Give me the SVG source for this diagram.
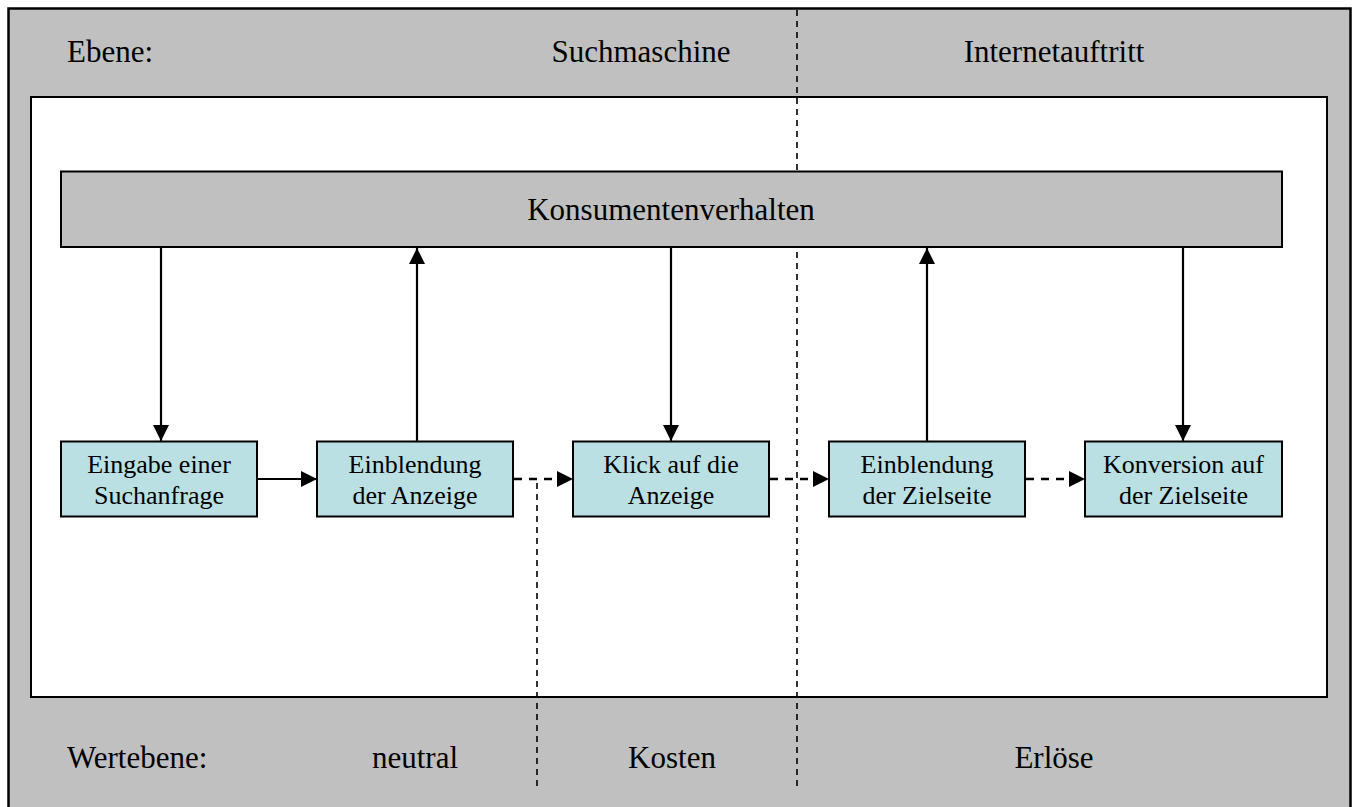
<svg xmlns="http://www.w3.org/2000/svg" width="1355" height="807" viewBox="0 0 1355 807">
<style>
  .lbl { font-family: "Liberation Serif", "Times New Roman", serif; font-size: 31px; fill: #000; }
  .box { fill: #BAE0E3; stroke: #000; stroke-width: 2; }
  .btxt { font-family: "Liberation Serif", "Times New Roman", serif; font-size: 26px; fill: #000; text-anchor: middle; }
  .sep { stroke: #000; stroke-width: 1.6; stroke-dasharray: 6 5; fill: none; }
  .solid { stroke: #000; stroke-width: 2.2; fill: none; marker-end: url(#ah); }
  .dash { stroke: #000; stroke-width: 2.5; stroke-dasharray: 8 7; fill: none; marker-end: url(#ah); }
</style>
<defs>
  <marker id="ah" markerUnits="userSpaceOnUse" markerWidth="16" markerHeight="16" viewBox="0 0 16 16" refX="16" refY="8" orient="auto">
    <path d="M0,0 L16,8 L0,16 Z" fill="#000"/>
  </marker>
</defs>
<g id="frame">
  <rect x="8.5" y="8.5" width="1342" height="805" fill="#C0C0C0" stroke="#000" stroke-width="2.5"/>
  <rect x="31" y="97" width="1296" height="600" fill="#FFFFFF" stroke="#000" stroke-width="2"/>
</g>
<g id="separators">
  <line class="sep" x1="797" y1="10" x2="797" y2="786"/>
  <line class="sep" x1="537" y1="483" x2="537" y2="786"/>
</g>
<g id="header-labels">
  <text class="lbl" x="67" y="62">Ebene:</text>
  <text class="lbl" x="641" y="62" text-anchor="middle">Suchmaschine</text>
  <text class="lbl" x="1054" y="62" text-anchor="middle">Internetauftritt</text>
</g>
<g id="footer-labels">
  <text class="lbl" x="67" y="768">Wertebene:</text>
  <text class="lbl" x="415" y="768" text-anchor="middle">neutral</text>
  <text class="lbl" x="672" y="768" text-anchor="middle">Kosten</text>
  <text class="lbl" x="1054" y="768" text-anchor="middle">Erlöse</text>
</g>
<g id="konsumentenverhalten">
  <rect x="61" y="171.5" width="1221" height="75.5" fill="#C0C0C0" stroke="#000" stroke-width="2"/>
  <text class="lbl" x="671" y="220" text-anchor="middle">Konsumentenverhalten</text>
</g>
<g id="eingabe">
  <rect class="box" x="61" y="441.5" width="196" height="75"/>
  <text class="btxt" x="159" y="473">Eingabe einer</text>
  <text class="btxt" x="159" y="504">Suchanfrage</text>
</g>
<g id="einblendung-anzeige">
  <rect class="box" x="317" y="441.5" width="196" height="75"/>
  <text class="btxt" x="415" y="473">Einblendung</text>
  <text class="btxt" x="415" y="504">der Anzeige</text>
</g>
<g id="klick">
  <rect class="box" x="573" y="441.5" width="196" height="75"/>
  <text class="btxt" x="671" y="473">Klick auf die</text>
  <text class="btxt" x="671" y="504">Anzeige</text>
</g>
<g id="einblendung-zielseite">
  <rect class="box" x="829" y="441.5" width="196" height="75"/>
  <text class="btxt" x="927" y="473">Einblendung</text>
  <text class="btxt" x="927" y="504">der Zielseite</text>
</g>
<g id="konversion">
  <rect class="box" x="1085" y="441.5" width="197" height="75"/>
  <text class="btxt" x="1183.5" y="473">Konversion auf</text>
  <text class="btxt" x="1183.5" y="504">der Zielseite</text>
</g>
<g id="connectors">
  <line class="solid" x1="161" y1="248" x2="161" y2="441"/>
  <line class="solid" x1="417" y1="441" x2="417" y2="248"/>
  <line class="solid" x1="671" y1="248" x2="671" y2="441"/>
  <line class="solid" x1="927" y1="441" x2="927" y2="248"/>
  <line class="solid" x1="1183" y1="248" x2="1183" y2="441"/>
  <line class="solid" x1="258" y1="479" x2="317" y2="479"/>
  <line class="dash" x1="514" y1="479" x2="573" y2="479"/>
  <line class="dash" x1="770" y1="479" x2="829" y2="479"/>
  <line class="dash" x1="1026" y1="479" x2="1085" y2="479"/>
</g>
</svg>
